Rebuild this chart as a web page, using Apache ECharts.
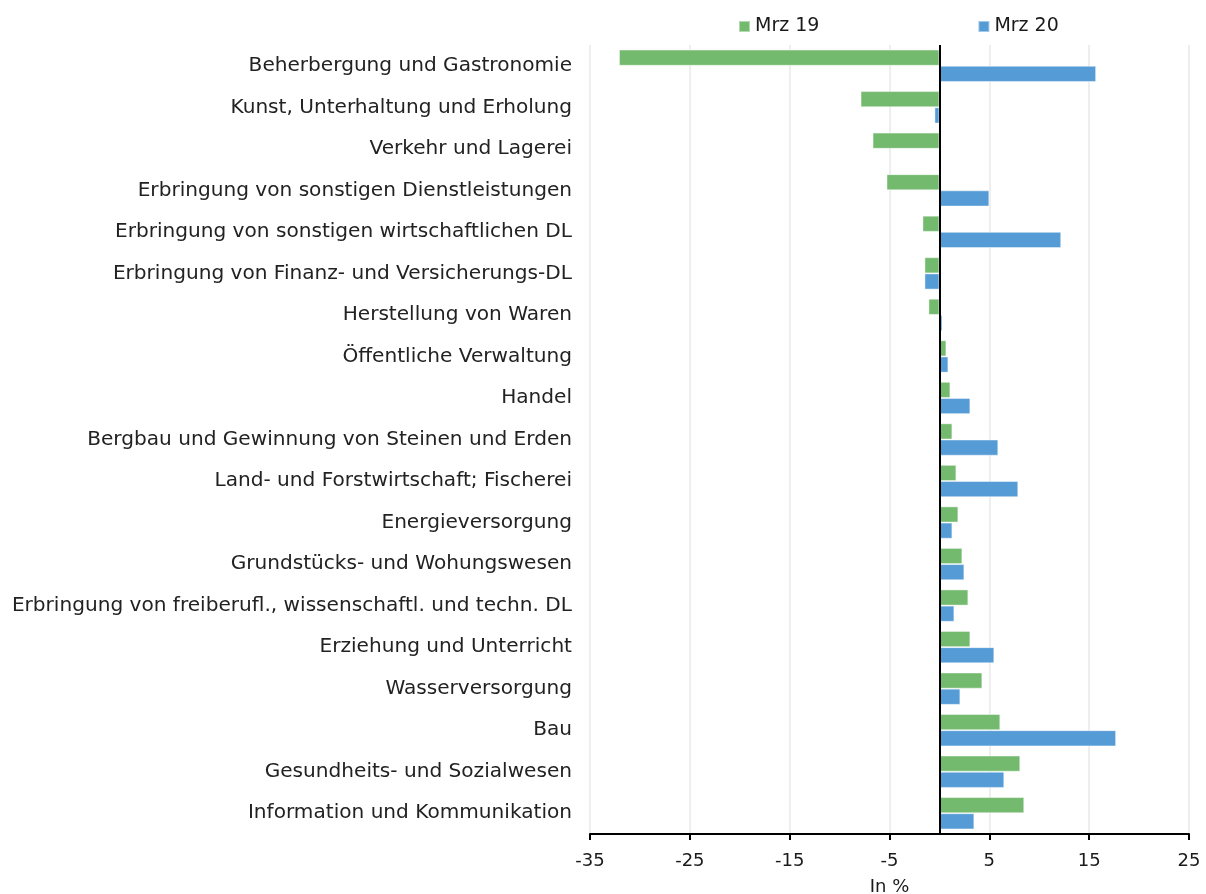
<!DOCTYPE html>
<html>
<head>
<meta charset="utf-8">
<script src="https://cdn.jsdelivr.net/npm/echarts@6/dist/echarts.min.js"></script>
<style>html,body{margin:0;padding:0;background:#fff}#c{width:1206px;height:894px}</style>
</head>
<body>
<div id="c"></div>
<script>
var categories = [
  "Beherbergung und Gastronomie",
  "Kunst, Unterhaltung und Erholung",
  "Verkehr und Lagerei",
  "Erbringung von sonstigen Dienstleistungen",
  "Erbringung von sonstigen wirtschaftlichen DL",
  "Erbringung von Finanz- und Versicherungs-DL",
  "Herstellung von Waren",
  "Öffentliche Verwaltung",
  "Handel",
  "Bergbau und Gewinnung von Steinen und Erden",
  "Land- und Forstwirtschaft; Fischerei",
  "Energieversorgung",
  "Grundstücks- und Wohungswesen",
  "Erbringung von freiberufl., wissenschaftl. und techn. DL",
  "Erziehung und Unterricht",
  "Wasserversorgung",
  "Bau",
  "Gesundheits- und Sozialwesen",
  "Information und Kommunikation"
];
var mrz19 = [-32.1, -7.9, -6.7, -5.3, -1.7, -1.5, -1.1, 0.7, 1.1, 1.3, 1.7, 1.9, 2.3, 2.9, 3.1, 4.3, 6.1, 8.1, 8.5];
var mrz20 = [15.7, -0.5, -0.1, 5.0, 12.2, -1.5, 0.3, 0.9, 3.1, 5.9, 7.9, 1.3, 2.5, 1.5, 5.5, 2.1, 17.7, 6.5, 3.5];
var seriesNames = ["Mrz 19", "Mrz 20"];
var axisName = "In %";

var FONT = "DejaVu Sans";
var chart = echarts.init(document.getElementById('c'), null, {renderer: 'canvas'});
chart.setOption({
  animation: false,
  textStyle: {fontFamily: FONT},
  legend: {
    top: 17, left: 738, padding: 0,
    itemWidth: 11, itemHeight: 11, itemGap: 158,
    icon: 'rect',
    textStyle: {fontFamily: FONT, fontSize: 19, color: '#1a1a1a'},
    data: seriesNames
  },
  grid: {left: 590, right: 17, top: 45, bottom: 60, containLabel: false, outerBoundsMode: 'none'},
  xAxis: {
    type: 'value', min: -35, max: 25, interval: 10,
    name: axisName, nameLocation: 'middle', nameGap: 44,
    nameTextStyle: {fontFamily: FONT, fontSize: 18, color: '#1a1a1a'},
    axisLine: {show: true, onZero: false, lineStyle: {color: '#000', width: 2}},
    axisTick: {show: true, length: 6, lineStyle: {color: '#000', width: 2}},
    axisLabel: {fontFamily: FONT, fontSize: 18, color: '#1a1a1a', margin: 18},
    splitLine: {show: true, lineStyle: {color: '#e8e8e8', width: 1.5}}
  },
  yAxis: {
    type: 'category', data: categories, inverse: true,
    axisLine: {show: false}, axisTick: {show: false},
    axisLabel: {fontFamily: FONT, fontSize: 20.1, color: '#222', margin: 18}
  },
  series: [
    {
      name: seriesNames[0], type: 'bar', data: mrz19,
      barGap: '0%', barCategoryGap: '22%',
      itemStyle: {color: '#73BA6E', borderColor: 'rgba(255,255,255,0.45)', borderWidth: 1},
      markLine: {
        silent: true, symbol: ['none', 'none'], label: {show: false},
        lineStyle: {color: '#000', width: 2, type: 'solid'},
        data: [{xAxis: 0}]
      }
    },
    {
      name: seriesNames[1], type: 'bar', data: mrz20,
      barGap: '0%', barCategoryGap: '22%',
      itemStyle: {color: '#559BD6', borderColor: 'rgba(255,255,255,0.45)', borderWidth: 1}
    }
  ]
});
</script>
</body>
</html>
